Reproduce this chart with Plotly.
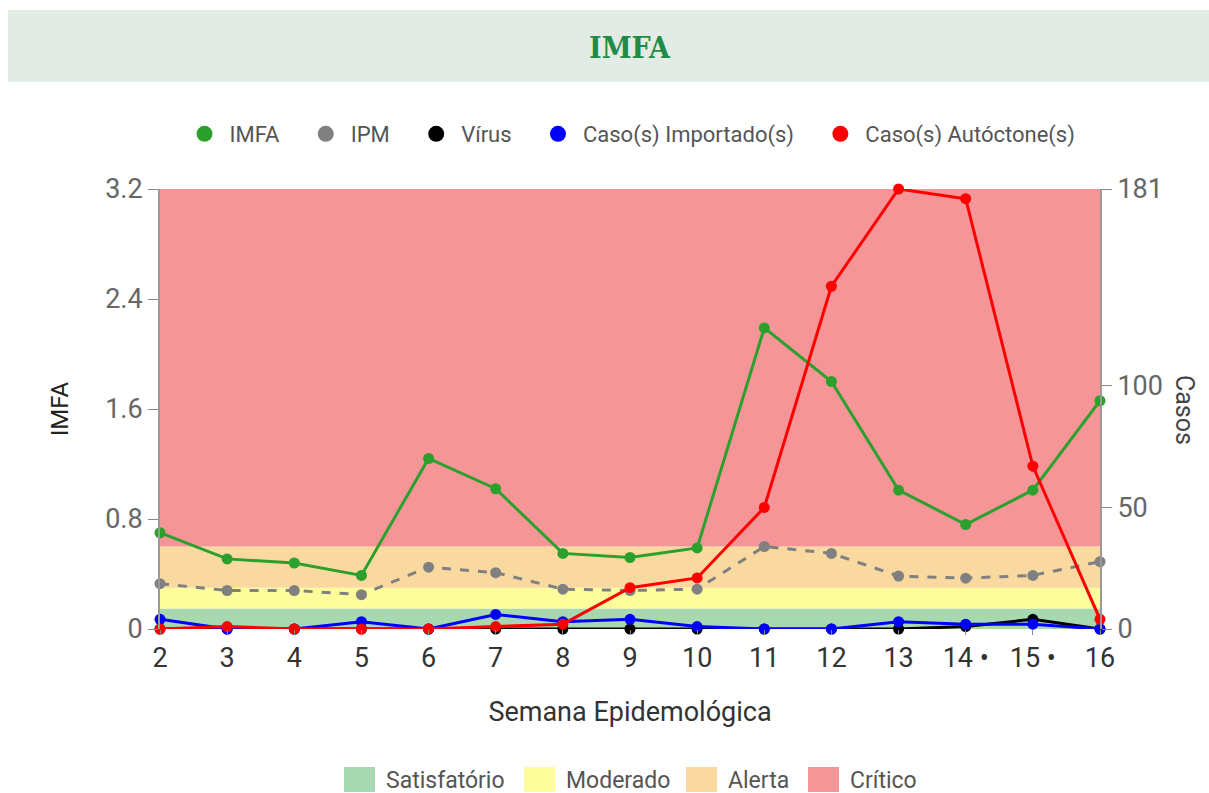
import plotly.graph_objects as go

weeks = [2, 3, 4, 5, 6, 7, 8, 9, 10, 11, 12, 13, 14, 15, 16]
week_labels = ["2", "3", "4", "5", "6", "7", "8", "9", "10", "11", "12", "13", "14 •", "15 •", "16"]

imfa = [0.70, 0.51, 0.48, 0.39, 1.24, 1.02, 0.55, 0.52, 0.59, 2.19, 1.80, 1.01, 0.76, 1.01, 1.66]
ipm = [0.33, 0.28, 0.28, 0.25, 0.45, 0.41, 0.29, 0.28, 0.29, 0.60, 0.55, 0.385, 0.37, 0.39, 0.49]
virus = [0, 0, 0, 0, 0, 0, 0, 0, 0, 0, 0, 0, 1, 4, 0]
importados = [4, 0, 0, 3, 0, 6, 3, 4, 1, 0, 0, 3, 2, 2, 0]
autoctones = [0, 1, 0, 0, 0, 1, 2, 17, 21, 50, 141, 181, 177, 67, 4]

band_names = ["Satisfatório", "Moderado", "Alerta", "Crítico"]
band_low = [0, 0.15, 0.3, 0.6]
band_high = [0.15, 0.3, 0.6, 3.2]
band_colors = ["#a8d8b0", "#fdfd9c", "#fad9a1", "#f69598"]

left_ticks = [0, 0.8, 1.6, 2.4, 3.2]
right_ticks = [0, 50, 100, 181]

FONT = "Roboto"
W, H = 1209, 793
ML, MR, MT, MB = 160, 109, 189, 164
PW, PH = W - ML - MR, H - MT - MB


def px(x):
    return (x - ML) / PW


def py(y):
    return (H - MB - y) / PH


fig = go.Figure()

series = [
    ("IMFA", imfa, "#2ca02c", "solid", "y"),
    ("IPM", ipm, "#808080", "dash", "y"),
    ("Vírus", virus, "#000000", "solid", "y2"),
    ("Caso(s) Importado(s)", importados, "#0000ff", "solid", "y2"),
    ("Caso(s) Autóctone(s)", autoctones, "#ff0000", "solid", "y2"),
]
for name, vals, color, dash, ax in series:
    fig.add_trace(go.Scatter(
        x=weeks, y=vals, name=name, yaxis=ax, mode="lines+markers",
        line=dict(color=color, width=3, dash=dash),
        marker=dict(color=color, size=11),
        cliponaxis=False, showlegend=False, legendgroup=name,
    ))
for i, (name, vals, color, dash, ax) in enumerate(series):
    pad = "" if i == len(series) - 1 else "\u00a0\u00a0\u00a0"
    fig.add_trace(go.Scatter(
        x=[None], y=[None], name=name + pad, yaxis=ax, mode="markers",
        marker=dict(color=color, size=16), legendgroup=name,
        hoverinfo="skip",
    ))

for lo, hi, color in zip(band_low, band_high, band_colors):
    fig.add_shape(type="rect", xref="x", yref="y", x0=weeks[0], x1=weeks[-1],
                  y0=lo, y1=hi, fillcolor=color, line=dict(width=0),
                  layer="below", opacity=1)

# band legend (bottom)
sq_x = [344, 524, 686, 808]
for name, color, sx in zip(band_names, band_colors, sq_x):
    fig.add_shape(type="rect", xref="paper", yref="paper",
                  x0=px(sx), x1=px(sx + 31), y0=py(792), y1=py(767),
                  fillcolor=color, line=dict(width=0))
    fig.add_annotation(text=name, xref="paper", yref="paper", x=px(sx + 40), y=py(780),
                       xanchor="left", yanchor="middle", showarrow=False,
                       font=dict(family=FONT, size=23, color="#555"))

# title banner
fig.add_shape(type="rect", xref="paper", yref="paper", x0=px(8), x1=px(1215),
              y0=py(82), y1=py(10), fillcolor="#e2ebe4", line=dict(width=0))
fig.add_annotation(text="<b>IMFA</b>", xref="paper", yref="paper", x=0.5, y=py(47),
                   yanchor="middle", showarrow=False,
                   font=dict(family="DejaVu Serif Condensed, Liberation Serif",
                             size=30, color="#1e8c46"))
fig.add_annotation(text="Casos", xref="paper", yref="paper", x=px(1185), y=py(410),
                   xanchor="center", yanchor="middle",
                   textangle=90, showarrow=False,
                   font=dict(family=FONT, size=25, color="#444"))

fig.update_layout(
    width=W, height=H,
    margin=dict(l=ML, r=MR, t=MT, b=MB, autoexpand=False),
    paper_bgcolor="white", plot_bgcolor="white",
    font=dict(family=FONT, color="#555"),
    showlegend=True,
    legend=dict(orientation="h", x=0.5, xanchor="center", y=py(134), yanchor="middle",
                font=dict(family=FONT, size=22, color="#555"), itemwidth=40),
    xaxis=dict(range=[weeks[0], weeks[-1]], tickvals=weeks, ticktext=week_labels,
               showgrid=False, zeroline=False, showline=False,
               ticks="outside", ticklen=5, tickcolor="#888",
               tickfont=dict(family=FONT, size=27, color="#333"),
               title=dict(text="Semana Epidemológica", font=dict(family=FONT, size=27, color="#333"),
                          standoff=28)),
    yaxis=dict(range=[0, 3.2], tickvals=left_ticks, ticktext=["0", "0.8", "1.6", "2.4", "3.2"],
               showgrid=False, zeroline=False, showline=True, linecolor="#999", linewidth=2,
               ticks="outside", ticklen=10, tickcolor="#888",
               tickfont=dict(family=FONT, size=27, color="#666"),
               title=dict(text="IMFA", font=dict(family=FONT, size=24, color="#222"), standoff=30)),
    yaxis2=dict(range=[0, 181], tickvals=right_ticks, overlaying="y", side="right",
                showgrid=False, zeroline=False, showline=True, linecolor="#999", linewidth=2,
                ticks="outside", ticklen=10, tickcolor="#888",
                tickfont=dict(family=FONT, size=27, color="#666")),
)

fig.write_html("out.html", config={"displayModeBar": False},
               post_script="document.body.style.margin='0px';")
